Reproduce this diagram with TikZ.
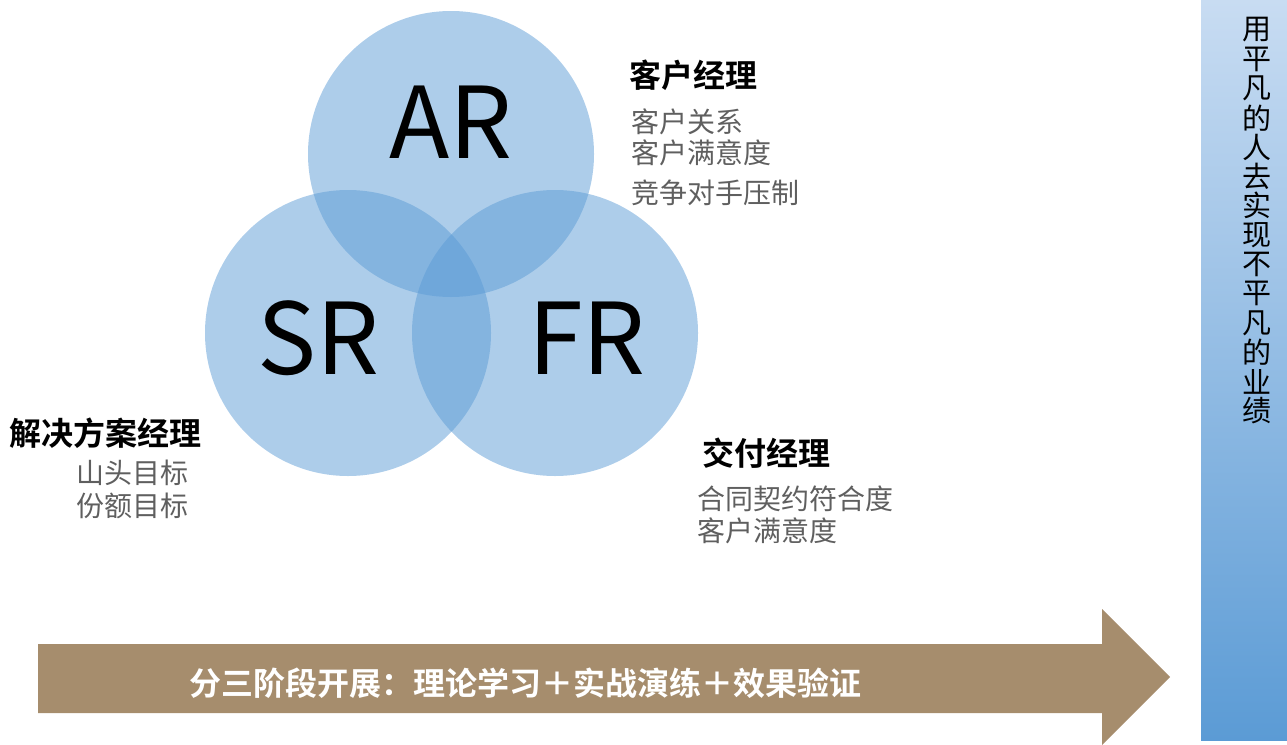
\documentclass[tikz,border=0pt]{standalone}
\usepackage{fontspec}
\setmainfont{Noto Sans CJK SC}[BoldFont={Noto Sans CJK SC Bold}]
\usepackage{tikz}
\definecolor{vennblue}{RGB}{91,155,213}
\definecolor{bartop}{RGB}{200,220,242}
\definecolor{arrowbrown}{RGB}{166,141,109}
\definecolor{itemgray}{RGB}{95,95,95}
\newcommand{\fs}[1]{\fontsize{#1}{#1}\selectfont}

\begin{document}
\begin{tikzpicture}[x=1pt,y=-1pt,
    every node/.style={inner sep=0pt},
    venn/.style={circle,minimum size=286pt,fill=vennblue,fill opacity=0.5},
    role/.style={font=\fs{99}},
    head/.style={anchor=west,font=\bfseries\fs{32}},
    item/.style={anchor=west,text=itemgray,font=\fs{28}}]
    \useasboundingbox (0,0) rectangle (1287,744);

    % venn
    \node[venn] (ar) at (451,154) {};
    \node[venn] (sr) at (348,333) {};
    \node[venn] (fr) at (555,333) {};
    \node[role] (arlabel) at (451,122) {AR};
    \node[role] (srlabel) at (318,338) {SR};
    \node[role] (frlabel) at (587,338) {FR};

    % roles
    \node[head] (am) at (629,75) {客户经理};
    \node[item] (am1) at (631,122) {客户关系};
    \node[item] (am2) at (631,153) {客户满意度};
    \node[item] (am3) at (631,193) {竞争对手压制};

    \node[head] (sm) at (9,433) {解决方案经理};
    \node[item] (sm1) at (76,473) {山头目标};
    \node[item] (sm2) at (76,506) {份额目标};

    \node[head] (fm) at (702,453) {交付经理};
    \node[item] (fm1) at (697,499) {合同契约符合度};
    \node[item] (fm2) at (697,531) {客户满意度};

    % bottom arrow
    \fill[arrowbrown] (38,644) -- (1102,644) -- (1102,609) -- (1170,677)
        -- (1102,745) -- (1102,713) -- (38,713) -- cycle;
    \node[anchor=west,text=white,font=\bfseries\fs{32}] (stages) at (189,683)
        {分三阶段开展：理论学习＋实战演练＋效果验证};

    % right bar
    \shade[top color=bartop,bottom color=vennblue] (1201,0) rectangle (1287,740);
    \foreach \c [count=\i] in {用,平,凡,的,人,去,实,现,不,平,凡,的,业,绩}
        \node[font=\fs{29}] (v\i) at (1257,{30+29.3*(\i-1)}) {\c};
\end{tikzpicture}
\end{document}
